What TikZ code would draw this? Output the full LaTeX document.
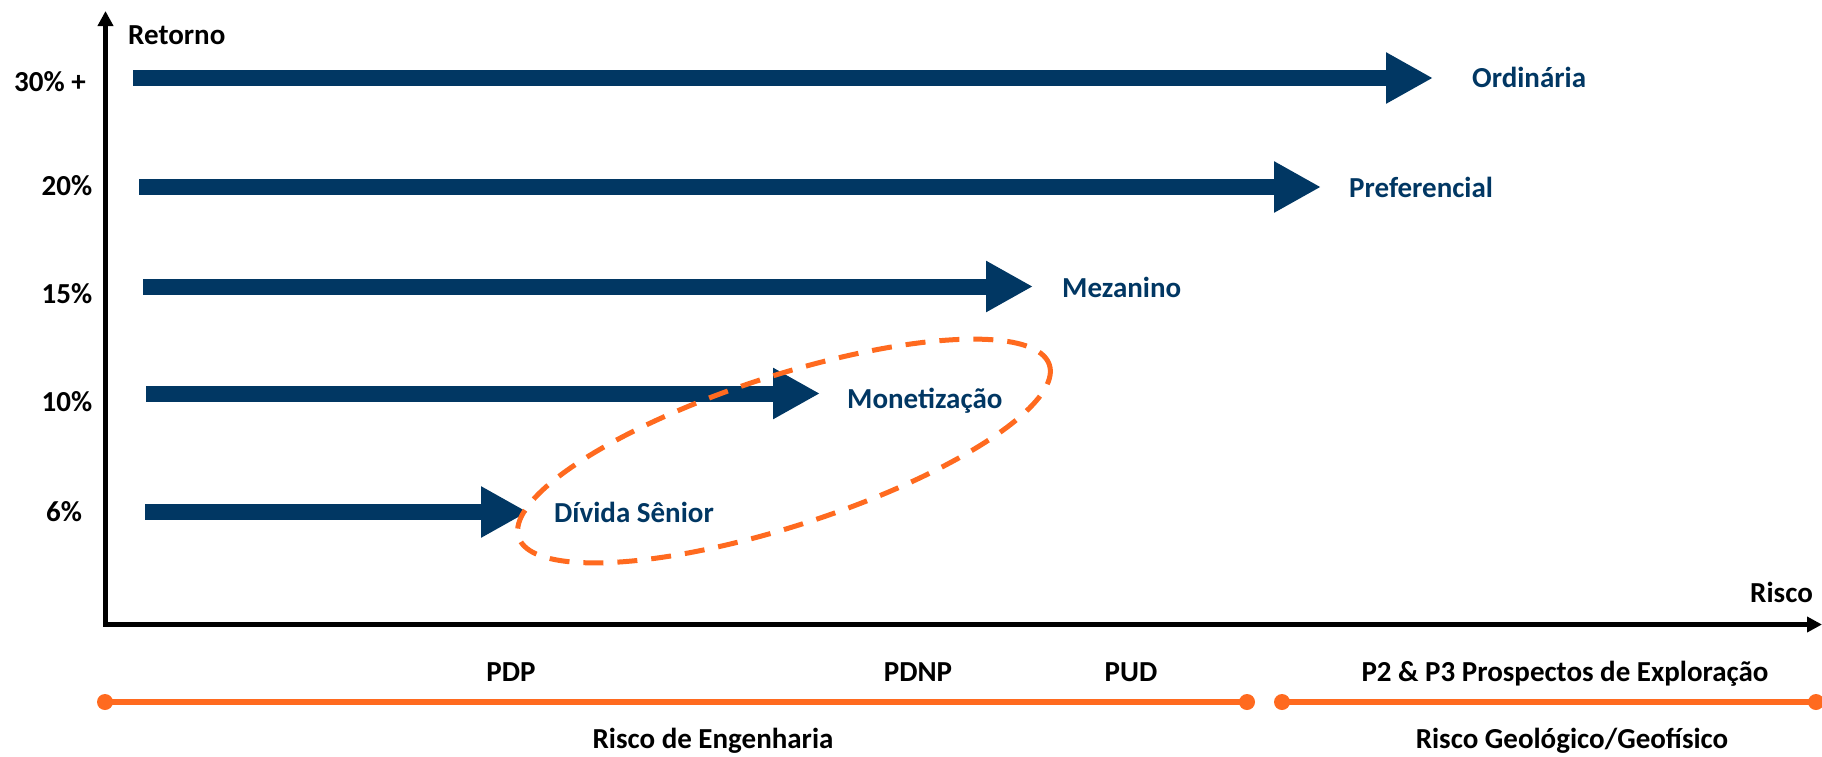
\documentclass[tikz,border=0pt]{standalone}
\usepackage{fontspec}
\setmainfont{Carlito}
\usetikzlibrary{arrows.meta}
\definecolor{navy}{RGB}{1,55,99}
\definecolor{orng}{RGB}{255,106,31}
\begin{document}
\begin{tikzpicture}[x=1pt,y=-1pt,
  lbl/.style={inner sep=0pt,font=\fontsize{29}{34}\selectfont\bfseries,text height=19pt,text depth=0pt},
  navylbl/.style={lbl,text=navy,anchor=west},
  blk/.style={lbl,text=black},
  bigarrow/.style={draw=navy,line width=16pt,-{Triangle[length=47pt,width=48pt]}},
  axis/.style={draw=black,line width=5pt,-{Triangle[length=15pt,width=15pt]}},
  band/.style={draw=orng,line width=6pt},
  dot/.style={fill=orng},
  ring/.style={draw=orng,line width=5pt,dash pattern=on 20pt off 14pt}]
\useasboundingbox (0,0) rectangle (1822,756);
% axes
\coordinate (O) at (105.5,624.5);
\coordinate (ytop) at (105.5,11);
\coordinate (xend) at (1822,624.5);
\draw[axis] (O) -- (ytop);
\draw[axis] ([xshift=-2.5pt]O) -- (xend);
\node[blk,anchor=west] (ret) at (128,35) {Retorno};
\node[blk,anchor=west] (risco) at (1750,593) {Risco};
% y labels
\node[blk] (y30) at (50,82) {30\% +};
\node[blk] (y20) at (67,186) {20\%};
\node[blk] (y15) at (67,294) {15\%};
\node[blk] (y10) at (67,402) {10\%};
\node[blk] (y6) at (64,512) {6\%};
% arrows
\coordinate (a1s) at (133,78);   \coordinate (a1e) at (1433,78);
\coordinate (a2s) at (139,187);  \coordinate (a2e) at (1321,187);
\coordinate (a3s) at (143,286.5);\coordinate (a3e) at (1033,286.5);
\coordinate (a4s) at (146,393.5);\coordinate (a4e) at (820,393.5);
\coordinate (a5s) at (145,512);  \coordinate (a5e) at (528,512);
\draw[bigarrow] (a1s) -- (a1e);
\draw[bigarrow] (a2s) -- (a2e);
\draw[bigarrow] (a3s) -- (a3e);
\draw[bigarrow] (a4s) -- (a4e);
\draw[bigarrow] (a5s) -- (a5e);
\node[navylbl] (ord) at (1472,78) {Ordinária};
\node[navylbl] (pref) at (1349,188) {Preferencial};
\node[navylbl] (mez) at (1062,288) {Mezanino};
\node[navylbl] (mon) at (847,399) {Monetização};
\node[navylbl] (div) at (554,513) {Dívida Sênior};
% ellipse
\draw[ring] plot[domain=0:360,samples=181]
  ({784 + 279*cos(\x)*cos(18) + 75*sin(\x)*sin(18)},
   {451 - 279*cos(\x)*sin(18) + 75*sin(\x)*cos(18)}) -- cycle;
% bottom scale
\coordinate (e1) at (105,702); \coordinate (e2) at (1247,702);
\coordinate (g1) at (1282,702); \coordinate (g2) at (1816,702);
\draw[band] (e1) -- (e2);
\draw[band] (g1) -- (g2);
\fill[dot] (e1) circle (8pt);
\fill[dot] (e2) circle (8pt);
\fill[dot] (g1) circle (8pt);
\fill[dot] (g2) circle (8pt);
\node[blk] (pdp) at (511,672) {PDP};
\node[blk] (pdnp) at (918,672) {PDNP};
\node[blk] (pud) at (1131,672) {PUD};
\node[blk] (p23) at (1565,672) {P2 \& P3 Prospectos de Exploração};
\node[blk] (reng) at (713,739) {Risco de Engenharia};
\node[blk] (rgeo) at (1572,739) {Risco Geológico/Geofísico};
\end{tikzpicture}
\end{document}
